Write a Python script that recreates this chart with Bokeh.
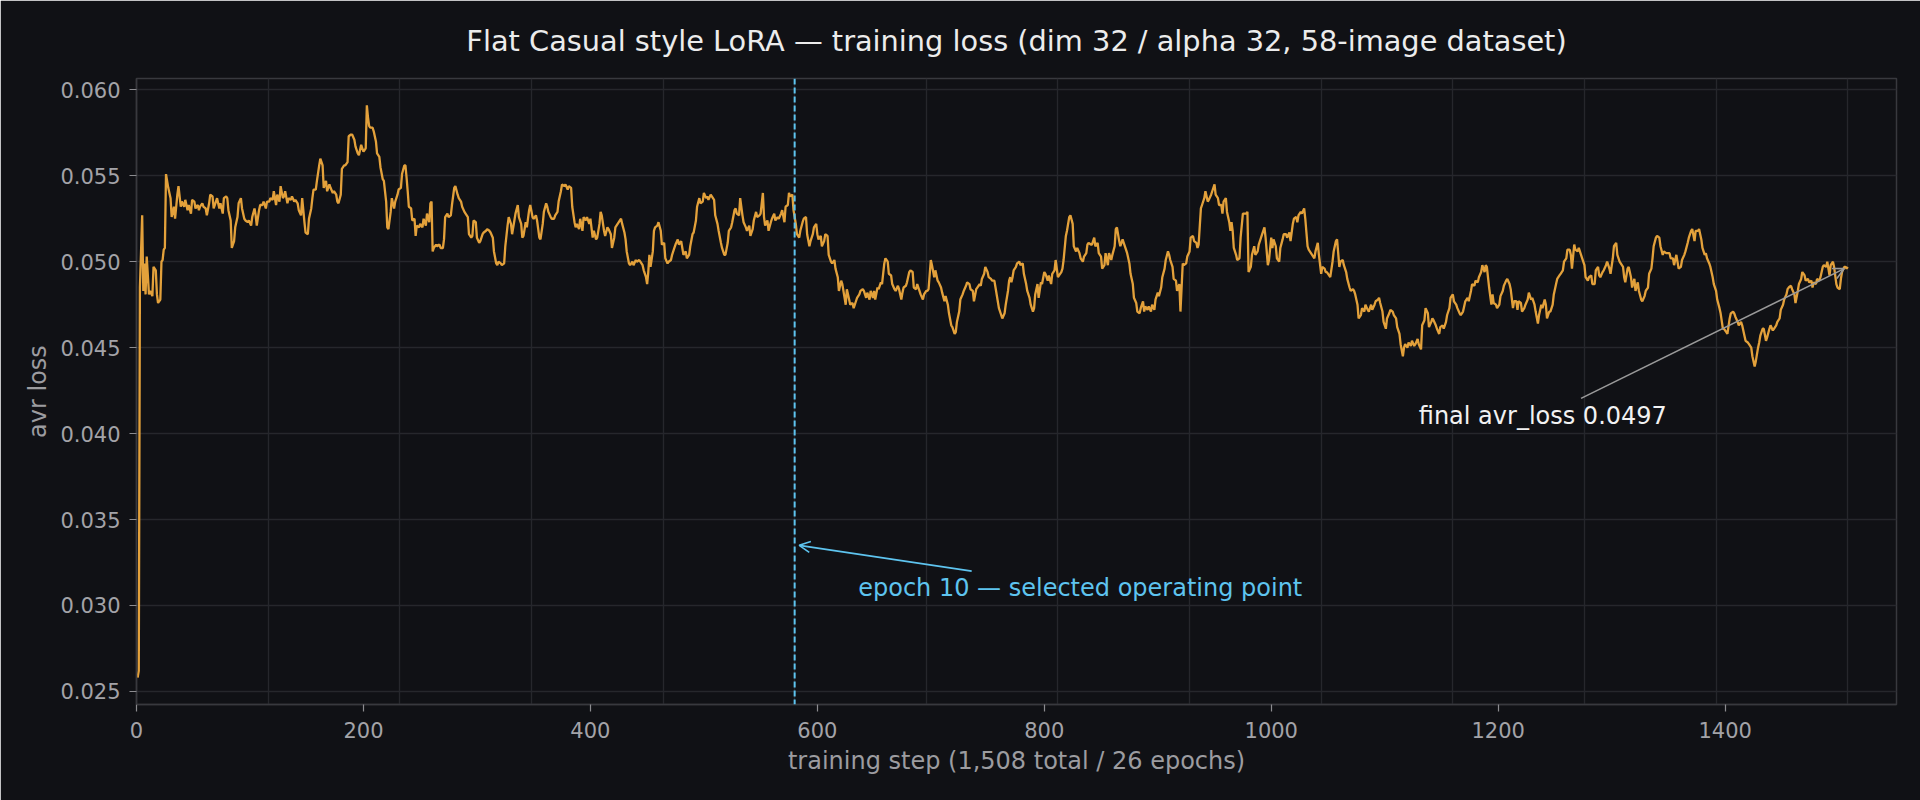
from bokeh.plotting import figure
from bokeh.models import Range1d, FixedTicker, Span, Label, Arrow, OpenHead, NumeralTickFormatter
from bokeh.embed import file_html
from bokeh.resources import INLINE

# ---------------- data ----------------
step = [
    1, 2, 3, 5, 6, 7, 8, 9, 11, 12, 14, 15, 17, 18, 19, 21, 22, 23, 24, 25,
    26, 28, 30, 31, 33, 34, 36, 37, 39, 40, 42, 43, 45, 46, 48, 49, 51, 52, 54, 55,
    56, 58, 59, 61, 62, 64, 65, 67, 68, 70, 71, 73, 74, 76, 77, 79, 80, 81, 83, 84,
    86, 87, 89, 90, 92, 93, 95, 96, 98, 99, 101, 102, 104, 105, 106, 108, 109, 111, 112, 114,
    115, 117, 118, 120, 121, 123, 124, 126, 127, 129, 130, 131, 133, 134, 136, 137, 139, 140, 142, 143,
    145, 146, 148, 149, 151, 152, 154, 155, 156, 158, 159, 161, 162, 164, 165, 167, 168, 170, 171, 173,
    174, 176, 177, 178, 180, 181, 183, 184, 186, 187, 189,
    190, 192, 193, 195, 196, 198, 199, 200, 202, 203, 204, 205, 206, 208, 209, 211, 212, 214, 215, 217,
    218, 220, 221, 222, 224, 225, 227, 228, 230, 231, 233, 234, 236, 237, 238, 239, 240, 242, 243, 245,
    246, 247, 249, 250, 252, 253, 255, 256, 258, 259, 260, 261, 262, 264, 265, 267, 268, 270, 271, 272,
    274, 275, 277, 278, 280, 281, 283, 284, 286, 287, 289, 290, 292, 293, 295, 296, 297, 299, 300, 302,
    303, 305, 306, 308, 309, 311, 312, 314, 315, 317, 318, 319, 321, 322, 324, 325, 327, 328, 330, 331,
    333, 334, 336, 337, 339, 340, 341, 343, 344, 346, 347, 349, 350, 352, 353, 355, 356, 358, 359, 361,
    362, 363, 365, 366, 368, 369, 371, 372, 374, 375, 377, 378, 380, 381,
    383, 384, 386, 387, 388, 390, 391, 393, 394, 396, 397, 399, 400, 402, 403, 405, 406, 408, 409, 410,
    412, 413, 415, 416, 418, 419, 421, 422, 424, 425, 427, 428, 430, 431, 432, 434, 435, 437, 438, 440,
    441, 443, 444, 446, 447, 449, 450, 451, 452, 453, 455, 456, 457, 459, 460, 462, 463, 465, 466, 468,
    469, 471, 472, 474, 475, 477, 478, 480, 481, 482, 484, 485, 487, 488, 490, 491, 493, 494, 496, 497,
    499, 500, 502, 503, 504, 506, 507, 509, 510, 512, 513, 515, 516, 518, 519, 521, 522, 524, 525, 527,
    528, 529, 531, 532, 534, 535, 537, 538, 540, 541, 543, 544, 546, 547, 549, 550, 552, 553, 554, 556,
    557, 559, 560, 562, 563, 565, 566, 568, 569, 571, 572, 574, 575, 576,
    578, 579, 581, 582, 584, 585, 587, 588, 590, 591, 593, 594, 596, 597, 599, 600, 601, 603, 604, 606,
    607, 609, 610, 612, 613, 615, 616, 618, 619, 621, 622, 624, 625, 626, 628, 629, 631, 632, 634, 635,
    637, 638, 640, 641, 643, 644, 646, 647, 649, 650, 651, 653, 654, 656, 657, 659, 660, 662, 663, 665,
    666, 668, 669, 671, 672, 674, 675, 676, 678, 679, 681, 682, 684, 685, 687, 688, 690, 691, 693, 694,
    696, 697, 698, 700, 701, 703, 704, 706, 707, 709, 710, 712, 713, 715, 716, 718, 719, 721, 722, 723,
    725, 726, 728, 729, 731, 732, 734, 735, 737, 738, 740, 741, 743, 744, 745, 747, 748, 750, 751, 753,
    754, 756, 757, 759, 760, 762, 763, 765, 766, 768, 769, 770,
    771, 772, 773, 775, 776, 778, 779, 781, 782, 784, 785, 787, 788, 790, 791, 792, 794, 795, 797, 798,
    800, 801, 803, 804, 806, 807, 809, 810, 812, 813, 815, 816, 817, 819, 820, 822, 823, 825, 826, 828,
    829, 831, 832, 834, 835, 837, 838, 839, 841, 842, 844, 845, 847, 848, 850, 851, 853, 854, 856, 857,
    859, 860, 862, 863, 864, 866, 867, 869, 870, 872, 873, 875, 876, 878, 879, 881, 882, 884, 885, 887,
    888, 889, 891, 892, 894, 895, 897, 898, 900, 901, 903, 904, 906, 907, 909, 910, 911, 913, 914, 916,
    917, 919, 920, 922, 923, 925, 926, 928, 929, 931, 932, 934, 935, 936, 938, 939, 941, 942, 944, 945,
    947, 948, 950, 951, 953, 954, 956, 957, 958, 960, 961, 963, 964,
    965, 966, 967, 969, 970, 972, 973, 975, 976, 978, 979, 980, 982, 983, 985, 986, 988, 989, 991, 992,
    994, 995, 997, 998, 1000, 1001, 1002, 1004, 1005, 1007, 1008, 1010, 1011, 1013, 1014, 1016, 1017, 1019, 1020, 1022,
    1023, 1024, 1026, 1027, 1029, 1030, 1032, 1033, 1035, 1036, 1038, 1039, 1041, 1042, 1044, 1045, 1047, 1048, 1049, 1051,
    1052, 1054, 1055, 1057, 1058, 1060, 1061, 1063, 1064, 1066, 1067, 1069, 1070, 1072, 1073, 1074, 1076, 1077, 1079, 1080,
    1082, 1083, 1085, 1086, 1088, 1089, 1091, 1092, 1094, 1095, 1096, 1098, 1099, 1101, 1102, 1104, 1105, 1107, 1108, 1110,
    1111, 1113, 1114, 1116, 1117, 1118, 1120, 1121, 1123, 1124, 1126, 1127, 1129, 1130, 1132, 1133, 1135, 1136, 1138, 1139,
    1141, 1142, 1143, 1145, 1146, 1148, 1149, 1151, 1152, 1154, 1155, 1157, 1158,
    1160, 1161, 1163, 1164, 1166, 1167, 1169, 1170, 1171, 1173, 1174, 1176, 1177, 1179, 1180, 1182, 1183, 1185, 1186, 1188,
    1189, 1190, 1192, 1194, 1195, 1196, 1198, 1199, 1201, 1202, 1204, 1205, 1207, 1208, 1210, 1211, 1213, 1214, 1216, 1217,
    1218, 1220, 1221, 1223, 1224, 1226, 1227, 1229, 1230, 1232, 1233, 1235, 1236, 1238, 1239, 1241, 1242, 1243, 1245, 1246,
    1248, 1249, 1251, 1252, 1254, 1255, 1257, 1258, 1260, 1261, 1263, 1264, 1265, 1267, 1268, 1270, 1271, 1273, 1274, 1276,
    1277, 1279, 1280, 1282, 1283, 1285, 1286, 1288, 1289, 1290, 1292, 1293, 1295, 1296, 1298, 1299, 1301, 1302, 1304, 1305,
    1307, 1308, 1310, 1311, 1312, 1314, 1315, 1317, 1318, 1320, 1321, 1323, 1324, 1326, 1327, 1329, 1330, 1332, 1333, 1335,
    1336, 1337, 1339, 1340, 1342, 1343, 1345, 1346, 1348, 1349, 1351, 1352,
    1354, 1355, 1357, 1358, 1359, 1361, 1362, 1364, 1365, 1367, 1368, 1370, 1371, 1373, 1374, 1376, 1377, 1379, 1380, 1382,
    1383, 1384, 1386, 1387, 1389, 1390, 1392, 1393, 1395, 1396, 1398, 1399, 1401, 1402, 1404, 1405, 1407, 1408, 1409, 1411,
    1412, 1414, 1415, 1417, 1418, 1420, 1421, 1423, 1424, 1426, 1427, 1429, 1430, 1431, 1433, 1434, 1436, 1437, 1439, 1440,
    1442, 1443, 1445, 1446, 1448, 1449, 1451, 1452, 1454, 1455, 1456, 1458, 1459, 1461, 1462, 1464, 1465, 1467, 1468, 1470,
    1471, 1473, 1474, 1476, 1477, 1478, 1480, 1481, 1483, 1484, 1486, 1487, 1489, 1490, 1492, 1493, 1495, 1496, 1498, 1499,
    1501, 1502, 1503, 1505, 1506, 1507, 1508,
]

avr_loss = [
    0.0258, 0.0262, 0.0485, 0.0527, 0.0483, 0.0499, 0.0481, 0.0503, 0.0481, 0.0483, 0.0480, 0.0497, 0.0495, 0.0481, 0.0476, 0.0478, 0.0500, 0.0501, 0.0507, 0.0508,
    0.0551, 0.0543, 0.0537, 0.0526, 0.0532, 0.0525, 0.0539, 0.0544, 0.0532, 0.0535, 0.0532, 0.0536, 0.0530, 0.0533, 0.0528, 0.0536, 0.0535, 0.0531, 0.0533, 0.0530,
    0.0532, 0.0534, 0.0532, 0.0531, 0.0527, 0.0534, 0.0539, 0.0538, 0.0531, 0.0535, 0.0537, 0.0531, 0.0534, 0.0528, 0.0537, 0.0538, 0.0537, 0.0530, 0.0524, 0.0508,
    0.0512, 0.0520, 0.0526, 0.0534, 0.0537, 0.0531, 0.0525, 0.0524, 0.0523, 0.0524, 0.0521, 0.0526, 0.0531, 0.0527, 0.0521, 0.0530, 0.0533, 0.0533, 0.0535, 0.0531,
    0.0535, 0.0535, 0.0537, 0.0536, 0.0541, 0.0533, 0.0539, 0.0535, 0.0544, 0.0537, 0.0538, 0.0541, 0.0534, 0.0537, 0.0536, 0.0538, 0.0535, 0.0536, 0.0534, 0.0530,
    0.0527, 0.0537, 0.0523, 0.0517, 0.0516, 0.0525, 0.0531, 0.0537, 0.0542, 0.0542, 0.0547, 0.0556, 0.0560, 0.0556, 0.0543, 0.0547, 0.0541, 0.0545, 0.0543, 0.0540,
    0.0541, 0.0539, 0.0535, 0.0534, 0.0539, 0.0554, 0.0556, 0.0556, 0.0558, 0.0573, 0.0574,
    0.0574, 0.0571, 0.0567, 0.0563, 0.0562, 0.0568, 0.0566, 0.0564, 0.0566, 0.0591, 0.0584, 0.0579, 0.0578, 0.0578, 0.0576, 0.0570, 0.0563, 0.0561, 0.0555, 0.0548,
    0.0547, 0.0535, 0.0520, 0.0519, 0.0529, 0.0537, 0.0531, 0.0535, 0.0539, 0.0542, 0.0543, 0.0551, 0.0556, 0.0556, 0.0549, 0.0541, 0.0532, 0.0531, 0.0524, 0.0525,
    0.0515, 0.0521, 0.0520, 0.0522, 0.0520, 0.0525, 0.0521, 0.0528, 0.0523, 0.0534, 0.0535, 0.0506, 0.0508, 0.0510, 0.0509, 0.0510, 0.0508, 0.0508, 0.0513, 0.0526,
    0.0528, 0.0526, 0.0527, 0.0533, 0.0543, 0.0544, 0.0539, 0.0537, 0.0535, 0.0532, 0.0529, 0.0528, 0.0526, 0.0516, 0.0514, 0.0515, 0.0524, 0.0523, 0.0514, 0.0511,
    0.0512, 0.0516, 0.0517, 0.0518, 0.0519, 0.0518, 0.0517, 0.0514, 0.0506, 0.0499, 0.0498, 0.0500, 0.0499, 0.0498, 0.0499, 0.0509, 0.0521, 0.0526, 0.0522, 0.0516,
    0.0524, 0.0528, 0.0533, 0.0526, 0.0522, 0.0514, 0.0515, 0.0523, 0.0520, 0.0530, 0.0533, 0.0526, 0.0525, 0.0527, 0.0524, 0.0514, 0.0513, 0.0522, 0.0529, 0.0534,
    0.0532, 0.0529, 0.0526, 0.0525, 0.0525, 0.0527, 0.0529, 0.0535, 0.0541, 0.0545, 0.0544, 0.0545, 0.0542, 0.0544,
    0.0543, 0.0532, 0.0523, 0.0520, 0.0522, 0.0519, 0.0525, 0.0518, 0.0526, 0.0524, 0.0526, 0.0522, 0.0525, 0.0514, 0.0518, 0.0513, 0.0514, 0.0522, 0.0529, 0.0527,
    0.0518, 0.0515, 0.0520, 0.0519, 0.0516, 0.0508, 0.0514, 0.0520, 0.0522, 0.0523, 0.0525, 0.0522, 0.0517, 0.0513, 0.0506, 0.0499, 0.0498, 0.0500, 0.0498, 0.0501,
    0.0500, 0.0501, 0.0500, 0.0498, 0.0495, 0.0491, 0.0487, 0.0494, 0.0504, 0.0497, 0.0506, 0.0518, 0.0520, 0.0521, 0.0523, 0.0518, 0.0510, 0.0511, 0.0502, 0.0499,
    0.0500, 0.0501, 0.0504, 0.0508, 0.0510, 0.0513, 0.0510, 0.0512, 0.0508, 0.0504, 0.0506, 0.0502, 0.0504, 0.0509, 0.0516, 0.0517, 0.0524, 0.0532, 0.0537, 0.0534,
    0.0535, 0.0540, 0.0537, 0.0538, 0.0536, 0.0539, 0.0538, 0.0536, 0.0527, 0.0522, 0.0518, 0.0511, 0.0508, 0.0504, 0.0504, 0.0511, 0.0518, 0.0520, 0.0523, 0.0530,
    0.0531, 0.0528, 0.0527, 0.0537, 0.0527, 0.0523, 0.0520, 0.0518, 0.0521, 0.0515, 0.0519, 0.0524, 0.0529, 0.0526, 0.0527, 0.0528, 0.0540, 0.0526, 0.0521, 0.0524,
    0.0518, 0.0523, 0.0525, 0.0528, 0.0524, 0.0526, 0.0525, 0.0528, 0.0530, 0.0523, 0.0532, 0.0533, 0.0540, 0.0538,
    0.0539, 0.0530, 0.0522, 0.0516, 0.0514, 0.0518, 0.0523, 0.0525, 0.0526, 0.0516, 0.0509, 0.0512, 0.0516, 0.0520, 0.0522, 0.0516, 0.0513, 0.0515, 0.0509, 0.0512,
    0.0516, 0.0515, 0.0504, 0.0500, 0.0499, 0.0501, 0.0496, 0.0491, 0.0483, 0.0489, 0.0487, 0.0479, 0.0475, 0.0484, 0.0478, 0.0475, 0.0476, 0.0473, 0.0477, 0.0479,
    0.0481, 0.0483, 0.0484, 0.0483, 0.0479, 0.0482, 0.0478, 0.0483, 0.0479, 0.0483, 0.0478, 0.0485, 0.0484, 0.0488, 0.0487, 0.0499, 0.0502, 0.0500, 0.0493, 0.0492,
    0.0487, 0.0484, 0.0483, 0.0486, 0.0484, 0.0478, 0.0482, 0.0485, 0.0486, 0.0488, 0.0494, 0.0495, 0.0494, 0.0485, 0.0484, 0.0487, 0.0483, 0.0481, 0.0478, 0.0481,
    0.0483, 0.0483, 0.0484, 0.0501, 0.0498, 0.0491, 0.0495, 0.0489, 0.0488, 0.0485, 0.0482, 0.0477, 0.0480, 0.0475, 0.0470, 0.0463, 0.0462, 0.0458, 0.0459, 0.0465,
    0.0471, 0.0478, 0.0481, 0.0483, 0.0486, 0.0488, 0.0487, 0.0484, 0.0483, 0.0477, 0.0484, 0.0485, 0.0487, 0.0486, 0.0490, 0.0493, 0.0497, 0.0494, 0.0491, 0.0490,
    0.0489, 0.0489, 0.0485, 0.0477, 0.0473, 0.0469, 0.0467, 0.0470, 0.0475, 0.0483, 0.0489, 0.0491,
    0.0488, 0.0491, 0.0495, 0.0497, 0.0499, 0.0500, 0.0498, 0.0499, 0.0493, 0.0487, 0.0483, 0.0479, 0.0475, 0.0471, 0.0473, 0.0481, 0.0487, 0.0479, 0.0488, 0.0487,
    0.0494, 0.0493, 0.0489, 0.0492, 0.0487, 0.0493, 0.0495, 0.0501, 0.0491, 0.0492, 0.0494, 0.0496, 0.0501, 0.0515, 0.0518, 0.0526, 0.0527, 0.0522, 0.0509, 0.0506,
    0.0508, 0.0505, 0.0502, 0.0500, 0.0503, 0.0505, 0.0510, 0.0511, 0.0510, 0.0510, 0.0514, 0.0509, 0.0511, 0.0505, 0.0503, 0.0496, 0.0498, 0.0505, 0.0498, 0.0505,
    0.0501, 0.0504, 0.0509, 0.0519, 0.0520, 0.0512, 0.0509, 0.0513, 0.0511, 0.0507, 0.0505, 0.0499, 0.0493, 0.0487, 0.0479, 0.0476, 0.0471, 0.0470, 0.0473, 0.0477,
    0.0471, 0.0474, 0.0472, 0.0474, 0.0471, 0.0475, 0.0472, 0.0478, 0.0482, 0.0480, 0.0485, 0.0491, 0.0496, 0.0501, 0.0506, 0.0504, 0.0501, 0.0497, 0.0490, 0.0489,
    0.0483, 0.0487, 0.0471, 0.0499, 0.0498, 0.0499, 0.0503, 0.0506, 0.0514, 0.0515, 0.0512, 0.0511, 0.0508, 0.0510, 0.0531, 0.0533, 0.0537, 0.0541, 0.0535, 0.0536,
    0.0539, 0.0541, 0.0545, 0.0539, 0.0537, 0.0533, 0.0533, 0.0528, 0.0535, 0.0537, 0.0529, 0.0523, 0.0518,
    0.0523, 0.0518, 0.0508, 0.0504, 0.0501, 0.0502, 0.0514, 0.0528, 0.0528, 0.0528, 0.0529, 0.0494, 0.0497, 0.0504, 0.0509, 0.0504, 0.0506, 0.0510, 0.0514, 0.0516,
    0.0520, 0.0514, 0.0498, 0.0501, 0.0514, 0.0508, 0.0513, 0.0509, 0.0502, 0.0500, 0.0508, 0.0513, 0.0516, 0.0516, 0.0514, 0.0517, 0.0512, 0.0522, 0.0525, 0.0526,
    0.0523, 0.0527, 0.0529, 0.0528, 0.0531, 0.0525, 0.0509, 0.0507, 0.0505, 0.0504, 0.0502, 0.0506, 0.0511, 0.0504, 0.0493, 0.0497, 0.0496, 0.0494, 0.0494, 0.0492,
    0.0491, 0.0500, 0.0506, 0.0512, 0.0513, 0.0497, 0.0500, 0.0501, 0.0498, 0.0494, 0.0490, 0.0485, 0.0483, 0.0484, 0.0483, 0.0481, 0.0475, 0.0467, 0.0469, 0.0473,
    0.0471, 0.0475, 0.0472, 0.0471, 0.0475, 0.0472, 0.0475, 0.0477, 0.0478, 0.0479, 0.0476, 0.0471, 0.0465, 0.0461, 0.0467, 0.0470, 0.0472, 0.0471, 0.0469, 0.0467,
    0.0462, 0.0458, 0.0452, 0.0445, 0.0450, 0.0452, 0.0450, 0.0453, 0.0451, 0.0454, 0.0451, 0.0452, 0.0455, 0.0452, 0.0449, 0.0463, 0.0466, 0.0473, 0.0470, 0.0462,
    0.0465, 0.0467, 0.0466, 0.0463, 0.0461, 0.0458, 0.0462, 0.0463, 0.0461, 0.0465, 0.0469, 0.0473, 0.0479,
    0.0481, 0.0477, 0.0475, 0.0473, 0.0470, 0.0469, 0.0471, 0.0474, 0.0477, 0.0479, 0.0477, 0.0483, 0.0487, 0.0486, 0.0489, 0.0488, 0.0491, 0.0494, 0.0498, 0.0494,
    0.0498, 0.0497, 0.0485, 0.0475, 0.0481, 0.0476, 0.0475, 0.0473, 0.0475, 0.0480, 0.0483, 0.0486, 0.0489, 0.0490, 0.0487, 0.0484, 0.0473, 0.0477, 0.0477, 0.0472,
    0.0477, 0.0476, 0.0471, 0.0473, 0.0475, 0.0478, 0.0482, 0.0478, 0.0479, 0.0475, 0.0471, 0.0464, 0.0469, 0.0475, 0.0473, 0.0478, 0.0475, 0.0467, 0.0471, 0.0471,
    0.0475, 0.0481, 0.0487, 0.0490, 0.0492, 0.0493, 0.0495, 0.0500, 0.0502, 0.0507, 0.0507, 0.0504, 0.0496, 0.0510, 0.0507, 0.0506, 0.0508, 0.0504, 0.0502, 0.0498,
    0.0491, 0.0489, 0.0491, 0.0492, 0.0487, 0.0487, 0.0495, 0.0497, 0.0492, 0.0491, 0.0494, 0.0495, 0.0498, 0.0500, 0.0496, 0.0493, 0.0502, 0.0509, 0.0511, 0.0504,
    0.0500, 0.0499, 0.0497, 0.0491, 0.0488, 0.0496, 0.0497, 0.0491, 0.0485, 0.0490, 0.0483, 0.0488, 0.0483, 0.0478, 0.0477, 0.0480, 0.0483, 0.0485, 0.0493, 0.0496,
    0.0502, 0.0509, 0.0514, 0.0515, 0.0514, 0.0509, 0.0504, 0.0506, 0.0505, 0.0505, 0.0505, 0.0502,
    0.0502, 0.0498, 0.0504, 0.0500, 0.0496, 0.0497, 0.0501, 0.0504, 0.0506, 0.0511, 0.0514, 0.0518, 0.0519, 0.0512, 0.0518, 0.0518, 0.0519, 0.0513, 0.0508, 0.0504,
    0.0505, 0.0502, 0.0499, 0.0497, 0.0491, 0.0487, 0.0483, 0.0478, 0.0473, 0.0470, 0.0461, 0.0461, 0.0459, 0.0458, 0.0467, 0.0470, 0.0471, 0.0470, 0.0468, 0.0465,
    0.0463, 0.0465, 0.0463, 0.0457, 0.0454, 0.0453, 0.0452, 0.0450, 0.0445, 0.0439, 0.0442, 0.0450, 0.0453, 0.0457, 0.0461, 0.0461, 0.0454, 0.0456, 0.0461, 0.0463,
    0.0460, 0.0461, 0.0463, 0.0465, 0.0467, 0.0472, 0.0475, 0.0478, 0.0481, 0.0484, 0.0485, 0.0486, 0.0484, 0.0481, 0.0476, 0.0483, 0.0487, 0.0490, 0.0494, 0.0492,
    0.0489, 0.0490, 0.0488, 0.0489, 0.0485, 0.0488, 0.0487, 0.0490, 0.0489, 0.0491, 0.0497, 0.0498, 0.0497, 0.0500, 0.0492, 0.0498, 0.0500, 0.0497, 0.0487, 0.0485,
    0.0484, 0.0490, 0.0494, 0.0497, 0.0497, 0.0496, 0.0497,
]
assert len(step) == len(avr_loss), (len(step), len(avr_loss))

x_ticks = [0, 200, 400, 600, 800, 1000, 1200, 1400]
y_ticks = [0.025, 0.030, 0.035, 0.040, 0.045, 0.050, 0.055, 0.060]
epoch_grid_steps = [116, 232, 348, 464, 580, 696, 812, 928, 1044, 1160, 1276, 1392, 1508]
selected_epoch_step = 580

title_text = "Flat Casual style LoRA \u2014 training loss (dim 32 / alpha 32, 58-image dataset)"
x_label = "training step (1,508 total / 26 epochs)"
y_label = "avr loss"
epoch_note = "epoch 10 \u2014 selected operating point"
final_note = "final avr_loss %.4f" % avr_loss[-1]

# ---------------- style ----------------
BG = "#101115"
GRID = "#26272c"
SPINE = "#38393e"
TICK_TXT = "#a3a3a8"
LABEL_TXT = "#9c9ca0"
LINE = "#e3a13b"
BLUE = "#5ec4ef"
FONT = "DejaVu Sans"

p = figure(width=1920, height=800, output_backend="svg", toolbar_location=None,
           x_range=Range1d(0, 1551), y_range=Range1d(0.02424, 0.06066),
           min_border_left=136, min_border_right=24, min_border_top=77, min_border_bottom=96,
           background_fill_color=BG, border_fill_color=BG)

p.title.text = title_text
p.title.align = "center"
p.title.text_font = FONT
p.title.text_font_size = "28.8px"
p.title.text_font_style = "normal"
p.title.text_color = "#ececec"
p.title.standoff = 42

p.outline_line_color = SPINE
p.outline_line_width = 1.5

for ax in (p.xaxis[0], p.yaxis[0]):
    ax.axis_line_color = SPINE
    ax.axis_line_width = 1.5
    ax.major_tick_line_color = "#8c8c90"
    ax.major_tick_line_width = 1.2
    ax.major_tick_out = 7
    ax.major_tick_in = 0
    ax.minor_tick_line_color = None
    ax.major_label_text_font = FONT
    ax.major_label_text_font_size = "21px"
    ax.major_label_text_color = TICK_TXT
    ax.axis_label_text_font = FONT
    ax.axis_label_text_font_size = "24px"
    ax.axis_label_text_font_style = "normal"
    ax.axis_label_text_color = LABEL_TXT

p.xaxis.ticker = FixedTicker(ticks=x_ticks)
p.yaxis.ticker = FixedTicker(ticks=y_ticks)
p.yaxis.formatter = NumeralTickFormatter(format="0.000")
p.xaxis.axis_label = x_label
p.yaxis.axis_label = y_label
p.xaxis.major_label_standoff = 10
p.yaxis.major_label_standoff = 9
p.xaxis.axis_label_standoff = 6
p.yaxis.axis_label_standoff = 5

p.xgrid.ticker = FixedTicker(ticks=epoch_grid_steps)
p.xgrid.grid_line_color = GRID
p.xgrid.grid_line_width = 1.4
p.ygrid.grid_line_color = GRID
p.ygrid.grid_line_width = 1.4

p.line(step, avr_loss, line_color=LINE, line_width=2.3)

p.add_layout(Span(location=selected_epoch_step, dimension="height", line_color=BLUE,
                  line_width=2, line_dash="6 3"))

# epoch-10 annotation
p.add_layout(Arrow(end=OpenHead(size=11, line_color=BLUE, line_width=1.6),
                   x_start=736, y_start=0.0320, x_end=selected_epoch_step + 4, y_end=0.0335,
                   line_color=BLUE, line_width=1.6))
p.add_layout(Label(x=636, y=0.0310, text=epoch_note, text_color=BLUE,
                   text_font=FONT, text_font_size="24px", text_baseline="alphabetic"))

# final value annotation
p.add_layout(Arrow(end=OpenHead(size=11, line_color="#9a9a9a", line_width=1.6),
                   x_start=1273, y_start=0.04205, x_end=step[-1] - 3, y_end=avr_loss[-1] - 0.0001,
                   line_color="#9a9a9a", line_width=1.6))
p.add_layout(Label(x=1130, y=0.0410, text=final_note, text_color="#f2f2f2",
                   text_font=FONT, text_font_size="24px", text_baseline="alphabetic"))

open("out.html", "w").write(file_html(p, INLINE))
